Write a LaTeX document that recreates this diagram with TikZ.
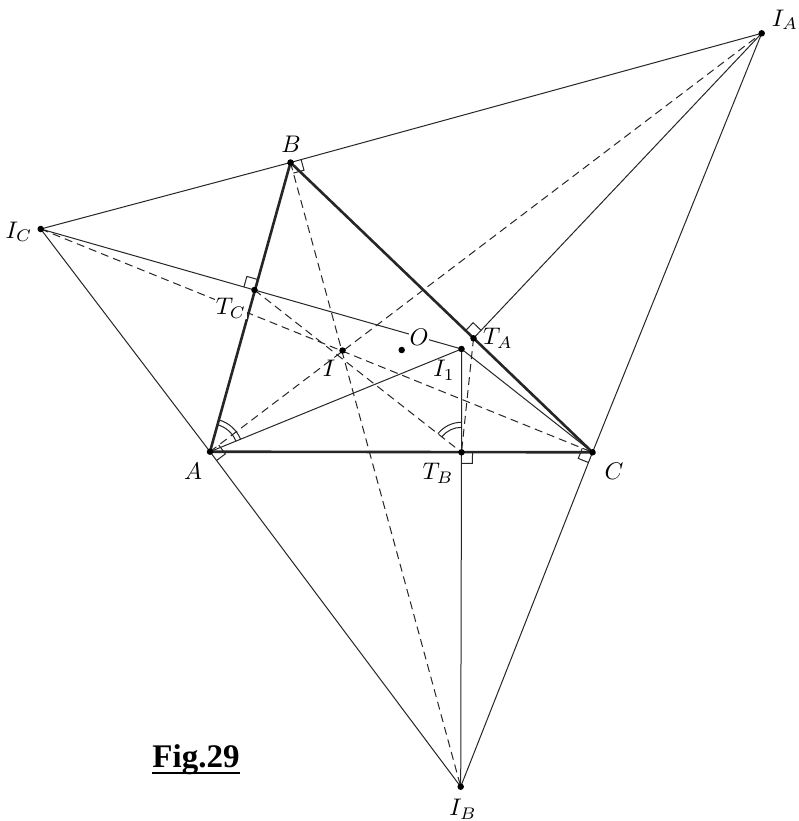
\documentclass[tikz,border=0pt]{standalone}
\usepackage{graphicx}
\usepackage{fontspec}
\newfontfamily\figfont{Liberation Serif}
\usetikzlibrary{calc,angles}
\newcommand\rmark[3]{%
  \coordinate (ra1) at ($(#1)!11pt!(#2)$);
  \coordinate (ra2) at ($(#1)!11pt!(#3)$);
  \draw[thinline] (ra1) -- ($(ra1)+(ra2)-(#1)$) -- (ra2);}
\newcommand\lab[1]{\scalebox{2.4}{$#1$}}
\begin{document}
\begin{tikzpicture}[x=1pt,y=-1pt,
  thinline/.style={line width=1pt,black!85},
  thickline/.style={line width=2.6pt,black!85,line cap=round},
  dashline/.style={line width=1pt,black!85,dash pattern=on 8pt off 5pt},
  lbl/.style={inner sep=1pt},
  dotmark/.style={circle,fill=black,inner sep=0pt,minimum size=6.5pt}]
\useasboundingbox[fill=white] (0,0) rectangle (798,821);
% points
\coordinate (IA) at (761.7,33.3);
\coordinate (B)  at (290.5,162.5);
\coordinate (IC) at (40.7,229);
\coordinate (TC) at (254.5,290);
\coordinate (I)  at (342.5,350.5);
\coordinate (O)  at (401.7,350);
\coordinate (I1) at (461.5,349);
\coordinate (TA) at (473.5,338.3);
\coordinate (A)  at (210,451.7);
\coordinate (TB) at (461.5,452.3);
\coordinate (C)  at (592.5,452.3);
\coordinate (IB) at (460.7,786.7);
% excentral triangle and solid lines
\draw[thinline] (IC) -- (B) -- (IA);
\draw[thinline] (IA) -- (C) -- (IB);
\draw[thinline] (IC) -- (A) -- (IB);
\draw[thinline] (IC) -- (TC) -- (I1);
\draw[thinline] (A) -- (I1);
\draw[thinline] (I1) -- (C);
\draw[thinline] (I1) -- (TB) -- (IB);
\draw[thinline] (IA) -- (TA);
% dashed lines
\draw[dashline] (A) -- (IA);
\draw[dashline] (B) -- (IB);
\draw[dashline] (IC) -- (C);
\draw[dashline] (TC) -- (TB);
\draw[dashline] (TA) -- (TB);
% triangle ABC
\draw[thickline] (A) -- (B) -- (C) -- cycle;
% right-angle marks
\rmark{B}{IA}{IB}
\rmark{TC}{B}{IC}
\rmark{TA}{B}{IA}
\rmark{TB}{C}{IB}
\rmark{A}{IA}{IB}
\rmark{C}{IC}{IB}
% equal angle marks
\pic[draw,thinline,angle radius=28pt] {angle = I1--A--B};
\pic[draw,thinline,angle radius=33pt] {angle = I1--A--B};
\pic[draw,thinline,angle radius=25pt] {angle = I1--TB--TC};
\pic[draw,thinline,angle radius=30pt] {angle = I1--TB--TC};
% dots
\foreach \p in {IA,B,IC,TC,I,O,I1,TA,A,TB,C,IB}
  \node[dotmark] (d\p) at (\p) {};
% labels
\node[lbl] (lIA) at (785,20) {\lab{I_A}};
\node[lbl] (lB)  at (291,144) {\lab{B}};
\node[lbl] (lIC) at (19,232) {\lab{I_C}};
\node[lbl,fill=white] (lTC) at (231,308) {\lab{T_C}};
\node[lbl,fill=white] (lO) at (419,337) {\lab{O}};
\node[lbl] (lI)  at (329,368) {\lab{I}};
\node[lbl] (lI1) at (444,370) {\lab{I_1}};
\node[lbl] (lTA) at (498,338) {\lab{T_A}};
\node[lbl] (lA)  at (193,471) {\lab{A}};
\node[lbl] (lTB) at (438,473) {\lab{T_B}};
\node[lbl] (lC)  at (614,471) {\lab{C}};
\node[lbl] (lIB) at (463,809) {\lab{I_B}};
% caption
\node[anchor=base,inner sep=0pt,font=\figfont\bfseries\fontsize{33}{38}\selectfont] (fig) at (196,767) {Fig.29};
\draw[line width=2.6pt] ($(fig.base west)+(0,6)$) -- ($(fig.base east)+(0,6)$);
\end{tikzpicture}
\end{document}
